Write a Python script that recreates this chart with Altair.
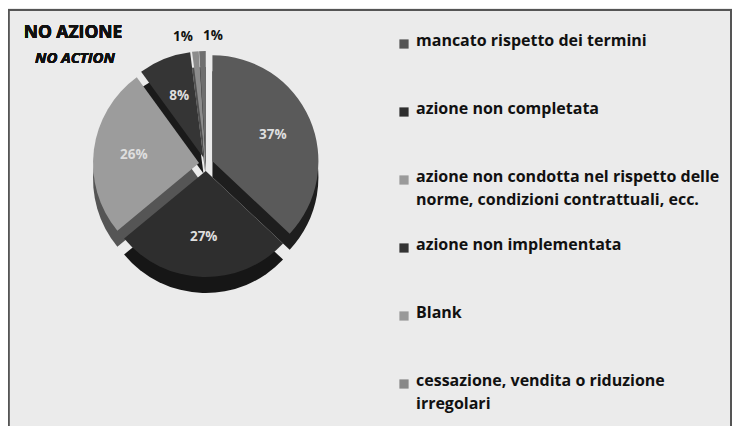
import altair as alt
import pandas as pd

categories = [
    "mancato rispetto dei termini",
    "azione non completata",
    "azione non condotta nel rispetto delle norme, condizioni contrattuali, ecc.",
    "azione non implementata",
    "Blank",
    "cessazione, vendita o riduzione irregolari",
]
legend_labels = [
    "mancato rispetto dei termini",
    "azione non completata",
    "azione non condotta nel rispetto delle\nnorme, condizioni contrattuali, ecc.",
    "azione non implementata",
    "Blank",
    "cessazione, vendita o riduzione\nirregolari",
]
values = [37, 27, 26, 8, 1, 1]

top_colors = ["#5a5a5a", "#2e2e2e", "#9c9c9c", "#353535", "#8c8c8c", "#6e6e6e"]
side_colors = ["#1e1e1e", "#161616", "#555555", "#1a1a1a", "#505050", "#3a3a3a"]
legend_colors = ["#555555", "#2e2e2e", "#9a9a9a", "#333333", "#999999", "#888888"]

df = pd.DataFrame({
    "cat": categories,
    "legend": legend_labels,
    "value": values,
    "order": list(range(len(values))),
})

W, H = 724, 418
CX, CY = 198, 156
R = 106
E = 7
D = 16
FONT = "Open Sans"

base = (
    alt.Chart(df)
    .transform_window(cum="sum(value)", sort=[alt.SortField("order")], frame=[None, 0])
    .transform_joinaggregate(total="sum(value)")
    .transform_calculate(
        t0="(datum.cum - datum.value) / datum.total * 2 * PI",
        t1="datum.cum / datum.total * 2 * PI",
    )
    .transform_calculate(mid="(datum.t0 + datum.t1) / 2")
    .transform_calculate(
        cx=f"{CX} + {E} * sin(datum.mid)",
        cy=f"{CY} - {E} * cos(datum.mid)",
        lr=f"datum.value < 5 ? {R + 15} : {R} * 0.62",
        pct="datum.value + '%'",
    )
    .transform_calculate(
        cyd=f"datum.cy + {D}",
        lx="datum.cx + datum.lr * sin(datum.mid) + (datum.value < 5 ? (datum.order == 4 ? -11 : 11) : 0)",
        ly="datum.cy - datum.lr * cos(datum.mid)",
    )
)

side = base.mark_arc(radius=R).encode(
    theta=alt.Theta("t0:Q", scale=None),
    theta2="t1:Q",
    x=alt.X("cx:Q", scale=None, axis=None),
    y=alt.Y("cyd:Q", scale=None, axis=None),
    color=alt.Color("cat:N", scale=alt.Scale(domain=categories, range=side_colors), legend=None),
)

top = base.mark_arc(radius=R).encode(
    theta=alt.Theta("t0:Q", scale=None),
    theta2="t1:Q",
    x=alt.X("cx:Q", scale=None, axis=None),
    y=alt.Y("cy:Q", scale=None, axis=None),
    color=alt.Color("cat:N", scale=alt.Scale(domain=categories, range=top_colors), legend=None),
)

labels_in = base.transform_filter("datum.value >= 5").mark_text(
    font=FONT, fontSize=13.5, fontWeight="bold", color="#dedede"
).encode(
    x=alt.X("lx:Q", scale=None, axis=None),
    y=alt.Y("ly:Q", scale=None, axis=None),
    text="pct:N",
)
labels_out = base.transform_filter("datum.value < 5").mark_text(
    font=FONT, fontSize=13.5, fontWeight="bold", color="#111111"
).encode(
    x=alt.X("lx:Q", scale=None, axis=None),
    y=alt.Y("ly:Q", scale=None, axis=None),
    text="pct:N",
)

leg_y = alt.Y("cat:N", scale=alt.Scale(domain=categories, type="point", range=[25, 365], padding=0), axis=None)
leg_sq = alt.Chart(df).mark_square(size=85, opacity=1, yOffset=11).encode(
    x=alt.value(396),
    y=leg_y,
    color=alt.Color("cat:N", scale=alt.Scale(domain=categories, range=legend_colors), legend=None),
)
leg_tx = alt.Chart(df).mark_text(
    font=FONT, fontSize=16, fontWeight="bold", color="#111111",
    align="left", baseline="top", lineBreak="\n", lineHeight=23,
).encode(
    x=alt.value(408),
    y=leg_y,
    text="legend:N",
)

title1 = alt.Chart(df).mark_text(
    font=FONT, fontSize=17.5, fontWeight="bold", color="#111111", align="center"
).encode(x=alt.value(65), y=alt.value(25), text=alt.value("NO AZIONE"))
title2 = alt.Chart(df).mark_text(
    font=FONT, fontSize=15, fontWeight="bold", fontStyle="italic", color="#111111", align="center"
).encode(x=alt.value(67), y=alt.value(50), text=alt.value("NO ACTION"))

frame = alt.Chart(df).mark_rect(fillOpacity=0, stroke="#555555", strokeWidth=1.5).encode(
    x=alt.value(0.5), x2=alt.value(723), y=alt.value(2), y2=alt.value(440)
)

chart = (
    alt.layer(side, top, labels_in, labels_out, leg_sq, leg_tx, title1, title2, frame)
    .resolve_scale(color="independent", x="independent", y="independent")
    .properties(width=W, height=H, autosize=alt.AutoSizeParams(type="none"), padding=0,
                background="#ebebeb")
    .configure_view(stroke=None)
)

chart.save("out.html", embed_options={"renderer": "svg", "actions": False})
